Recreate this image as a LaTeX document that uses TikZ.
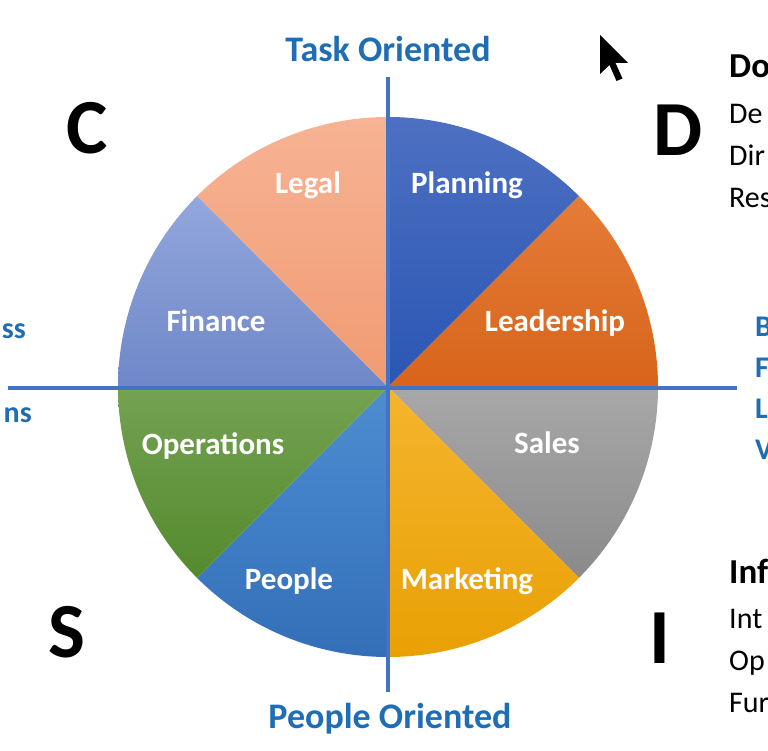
\documentclass[tikz,border=0pt]{standalone}
\usepackage{fontspec}
\setmainfont{Carlito}
\definecolor{axisblue}{HTML}{4472C4}
\definecolor{textblue}{HTML}{1F6DB5}
% wedge colours, top and bottom of each shading
\definecolor{planT}{HTML}{4D70C2}
\definecolor{planB}{HTML}{2A56B3}
\definecolor{leadT}{HTML}{E47C38}
\definecolor{leadB}{HTML}{D8641A}
\definecolor{saleT}{HTML}{A8A8A8}
\definecolor{saleB}{HTML}{8A8A8A}
\definecolor{markT}{HTML}{F4B52E}
\definecolor{markB}{HTML}{E9A004}
\definecolor{peopT}{HTML}{4F8DD2}
\definecolor{peopB}{HTML}{326FB8}
\definecolor{operT}{HTML}{74A252}
\definecolor{operB}{HTML}{548A2E}
\definecolor{finaT}{HTML}{93A7DC}
\definecolor{finaB}{HTML}{6F87C8}
\definecolor{legaT}{HTML}{F7B394}
\definecolor{legaB}{HTML}{F09B72}
\begin{document}
\begin{tikzpicture}[x=1pt,y=1pt,
	wedgelabel/.style={anchor=base,text=white,font=\bfseries\fontsize{31}{34}\selectfont},
	axislabel/.style={text=textblue,font=\bfseries\fontsize{36}{40}\selectfont},
	edgelabel/.style={text=textblue,font=\bfseries\fontsize{30}{32}\selectfont,inner sep=0pt},
	bigletter/.style={font=\bfseries\fontsize{78}{80}\selectfont},
	sidehead/.style={anchor=base west,inner sep=0pt,font=\bfseries\fontsize{35}{38}\selectfont},
	sideline/.style={anchor=base west,inner sep=0pt,font=\fontsize{30}{32}\selectfont},
	axisline/.style={axisblue,line width=4pt}]
	\useasboundingbox (0,0) rectangle (768,750);
	\clip (0,0) rectangle (768,750);
	\coordinate (O) at (388,363);
	%pie
	\foreach \a/\ct/\cb in {90/planT/planB,45/leadT/leadB,0/saleT/saleB,-45/markT/markB,
		-90/peopT/peopB,-135/operT/operB,180/finaT/finaB,135/legaT/legaB} {
		\shade[top color=\ct,bottom color=\cb] (O) -- ++(\a:270) arc[start angle=\a,end angle=\a-45,radius=270] -- cycle;
	}
	%wedge labels
	\node[wedgelabel] (legal) at (308,556) {Legal};
	\node[wedgelabel] (planning) at (467,556) {Planning};
	\node[wedgelabel] (finance) at (216,418) {Finance};
	\node[wedgelabel] (leadership) at (555,418) {Leadership};
	\node[wedgelabel] (operations) at (213,295) {Operations};
	\node[wedgelabel] (sales) at (547,296) {Sales};
	\node[wedgelabel] (people) at (289,161) {People};
	\node[wedgelabel] (marketing) at (467,161) {Marketing};
	%axis
	\node[axislabel,anchor=base] (task) at (388,688) {Task Oriented};
	\node[axislabel,anchor=base] (peopleor) at (390,22) {People Oriented};
	\coordinate (vtop) at (388,673);
	\coordinate (vbot) at (388,58);
	\coordinate (hleft) at (8,362);
	\coordinate (hright) at (737,362);
	\draw[axisline] (vtop) -- (vbot);
	\draw[axisline] (hleft) -- (hright);
	%cut off words at the edges
	\node[edgelabel,anchor=base east] (lefttop) at (26,411) {ss};
	\node[edgelabel,anchor=base east] (leftbot) at (32,327) {ns};
	\node[edgelabel,anchor=base west] (rb) at (755,413) {B};
	\node[edgelabel,anchor=base west] (rf) at (755,372) {F};
	\node[edgelabel,anchor=base west] (rl) at (755,331) {L};
	\node[edgelabel,anchor=base west] (rv) at (755,290) {V};
	%quadrant letters
	\node[bigletter] (c) at (87,622) {C};
	\node[bigletter] (d) at (678,620) {D};
	\node[bigletter] (s) at (67,118) {S};
	\node[bigletter] (i) at (660,112) {I};
	%side text
	\node[sidehead] (dtitle) at (729,672) {Do};
	\node[sideline] (d1) at (729,626) {De};
	\node[sideline] (d2) at (729,584) {Dir};
	\node[sideline] (d3) at (729,542) {Res};
	\node[sidehead] (ititle) at (729,167) {Inf};
	\node[sideline] (i1) at (729,122) {Int};
	\node[sideline] (i2) at (729,80) {Op};
	\node[sideline] (i3) at (729,38) {Fur};
	%pointer
	\fill[black] (600,715) -- ++(0,-39) -- ++(9.5,9) -- ++(7,-16) -- ++(6,2.5) -- ++(-7,15.5) -- ++(12.5,0) -- cycle;
\end{tikzpicture}
\end{document}
